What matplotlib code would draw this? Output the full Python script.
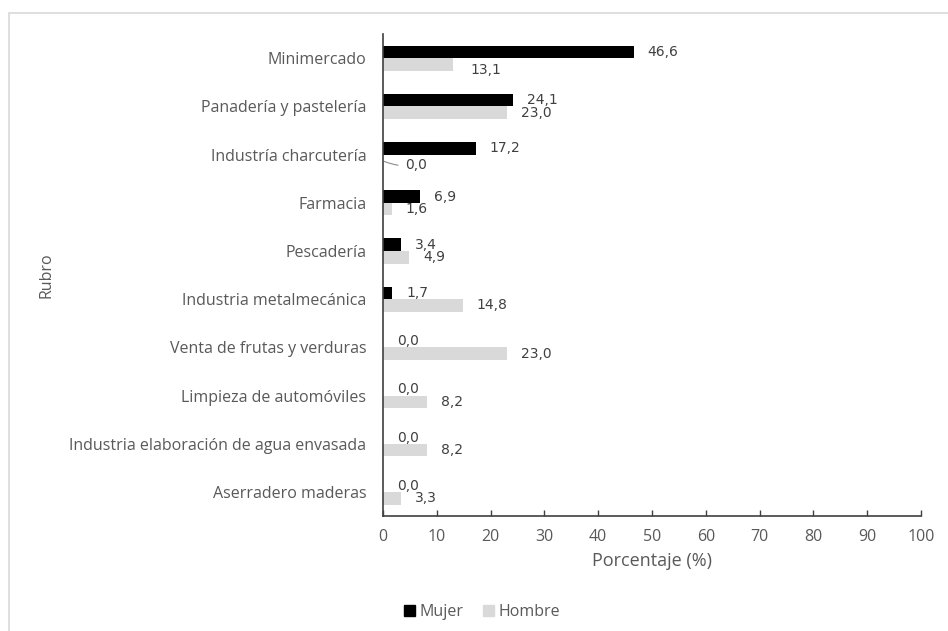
import matplotlib
matplotlib.use("Agg")
import matplotlib.pyplot as plt
from matplotlib.patches import Patch, Rectangle
import numpy as np

categories = [
    "Minimercado",
    "Panadería y pastelería",
    "Industría charcutería",
    "Farmacia",
    "Pescadería",
    "Industria metalmecánica",
    "Venta de frutas y verduras",
    "Limpieza de automóviles",
    "Industria elaboración de agua envasada",
    "Aserradero maderas",
]
mujer = [46.6, 24.1, 17.2, 6.9, 3.4, 1.7, 0.0, 0.0, 0.0, 0.0]
hombre = [13.1, 23.0, 0.0, 1.6, 4.9, 14.8, 23.0, 8.2, 8.2, 3.3]
x_ticks = [0, 10, 20, 30, 40, 50, 60, 70, 80, 90, 100]

TEXT = "#595959"
C_MUJER = "#000000"
C_HOMBRE = "#d9d9d9"
TICK_FONT = ["Open Sans", "DejaVu Sans"]
LABEL_FONT = ["DejaVu Sans"]

fig = plt.figure(figsize=(9.48, 6.31), dpi=100)
ax = fig.add_axes([0.404, 0.182, 0.5675, 0.764])

# outer chart frame
fig.patches.append(Rectangle((9 / 948, -0.05), 1.2, 1 - 13 / 631 + 0.05,
                             transform=fig.transFigure, fill=False,
                             edgecolor="#d9d9d9", linewidth=1.2))

pos = np.arange(len(categories))
h = 0.26
ax.barh(pos - h / 2, mujer, height=h, color=C_MUJER, label="Mujer")
ax.barh(pos + h / 2, hombre, height=h, color=C_HOMBRE, label="Hombre")

def fmt(v):
    return f"{v:.1f}".replace(".", ",")

# value labels, nudged in pixels where they would overlap
special = {("h", 0): (17, -6), ("h", 2): (22, -4)}
for i, v in enumerate(mujer):
    dx, dy = special.get(("m", i), (14, 0))
    ax.annotate(fmt(v), (v, pos[i] - h / 2), xytext=(dx, dy),
                textcoords="offset pixels", va="center", ha="left",
                fontsize=10, color="#404040", family=LABEL_FONT)
for i, v in enumerate(hombre):
    dx, dy = special.get(("h", i), (14, 0))
    kw = {}
    if i == 2:
        kw["arrowprops"] = dict(arrowstyle="-", color="#8c8c8c", lw=0.8,
                                shrinkA=3, shrinkB=1,
                                connectionstyle="arc3,rad=-0.15")
    ax.annotate(fmt(v), (v, pos[i] + h / 2), xytext=(dx, dy),
                textcoords="offset pixels", va="center", ha="left",
                fontsize=10, color="#404040", family=LABEL_FONT, **kw)

ax.set_xlim(0, 100)
ax.set_ylim(len(categories) - 0.5, -0.5)
ax.set_xticks(x_ticks)
ax.set_xticklabels([str(t) for t in x_ticks], family=TICK_FONT)
ax.set_yticks(pos)
ax.set_yticklabels(categories, family=TICK_FONT)
ax.tick_params(axis="x", direction="in", length=4, width=1, color="#404040",
               labelsize=11.5, labelcolor=TEXT, pad=9)
ax.tick_params(axis="y", length=0, labelsize=11.5, labelcolor=TEXT, pad=12)
for s in ["top", "right"]:
    ax.spines[s].set_visible(False)
for s in ["left", "bottom"]:
    ax.spines[s].set_color("#404040")
    ax.spines[s].set_linewidth(1.2)

ax.set_xlabel("Porcentaje (%)", fontsize=13, color=TEXT, family=TICK_FONT,
              labelpad=5)
fig.text(47 / 948, 1 - 275 / 631, "Rubro", rotation=90, ha="center",
         va="center", fontsize=11.5, color=TEXT, family=TICK_FONT)

handles = [Patch(color=C_MUJER, label="Mujer"),
           Patch(color=C_HOMBRE, label="Hombre")]
fig.legend(handles=handles, loc="center", bbox_to_anchor=(482 / 948, 1 - 612 / 631),
           ncol=2, frameon=False, handlelength=0.7, handleheight=0.7,
           handletextpad=0.3, columnspacing=1.2,
           prop={"family": TICK_FONT, "size": 11.5}, labelcolor=TEXT)

fig.savefig("out.png", dpi=100, facecolor="white")
